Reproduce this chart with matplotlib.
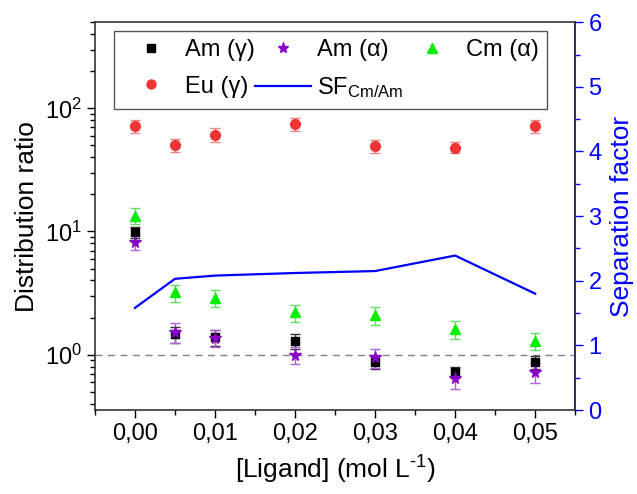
import numpy as np
import matplotlib
matplotlib.use('Agg')
import matplotlib.pyplot as plt
from matplotlib.lines import Line2D
from matplotlib.ticker import FixedLocator, MultipleLocator, FuncFormatter, LogLocator
#================================================================
plt.rcParams['font.family'] = ['Liberation Sans', 'DejaVu Sans']
plt.rcParams['mathtext.fontset'] = 'custom'
plt.rcParams['mathtext.rm'] = 'Liberation Sans'
plt.rcParams['mathtext.it'] = 'Liberation Sans:italic'

ligand = [0.0, 0.005, 0.01, 0.02, 0.03, 0.04, 0.05]

eu_gamma = [72, 50, 61, 74, 49, 48, 72]
eu_gamma_err = [9, 6, 8, 9, 6, 5, 9]

cm_alpha = [13.4, 3.2, 2.9, 2.2, 2.1, 1.6, 1.3]
cm_alpha_err = [2.0, 0.5, 0.45, 0.35, 0.35, 0.27, 0.2]

am_gamma = [9.9, 1.46, 1.38, 1.29, 0.87, 0.72, 0.87]
am_gamma_err = [1.0, 0.22, 0.2, 0.17, 0.11, 0.08, 0.1]

am_alpha = [8.2, 1.53, 1.37, 1.0, 0.95, 0.65, 0.72]
am_alpha_err = [1.1, 0.28, 0.22, 0.16, 0.17, 0.12, 0.13]

sf_cm_am = [1.58, 2.03, 2.08, 2.12, 2.15, 2.39, 1.80]

xticks = [0.00, 0.01, 0.02, 0.03, 0.04, 0.05]
#================================================================
fig = plt.figure(figsize=(6.37, 4.94), dpi=100)
ax = fig.add_axes([0.149, 0.170, 0.754, 0.785])
ax2 = ax.twinx()

ax.axhline(1.0, color='grey', ls=(0, (5, 4)), lw=1.0, zorder=1)

def plot_series(y, yerr, marker, color, ecolor, ms):
    ax.errorbar(ligand, y, yerr=yerr, fmt=marker, color=color, ecolor=ecolor,
                ms=ms, mec=color, capsize=3.5, elinewidth=1.0, capthick=1.0, zorder=3)

plot_series(eu_gamma, eu_gamma_err, 'o', '#EE3535', '#F08080', 7)
plot_series(cm_alpha, cm_alpha_err, '^', '#00EE00', '#60E060', 7.5)
plot_series(am_gamma, am_gamma_err, 's', 'black', '#333333', 6)
plot_series(am_alpha, am_alpha_err, '*', '#8A00C8', '#B060E0', 8.5)

ax2.plot(ligand, sf_cm_am, color='#0000FF', lw=1.6)

ax.set_yscale('log')
ax.set_ylim(0.355, 500)
ax.set_xlim(-0.005, 0.055)
ax2.set_ylim(0, 6)

ax.xaxis.set_major_locator(FixedLocator(xticks))
ax.xaxis.set_minor_locator(MultipleLocator(0.005))
ax.xaxis.set_major_formatter(FuncFormatter(lambda v, p: ('%.2f' % v).replace('.', ',')))
ax.yaxis.set_major_locator(LogLocator(base=10, numticks=10))
ax.yaxis.set_minor_locator(LogLocator(base=10, subs=np.arange(2, 10), numticks=10))

ax.tick_params(axis='both', which='major', direction='out', length=6, width=1, labelsize=17)
ax.tick_params(axis='both', which='minor', direction='out', length=3.5, width=1)
ax.tick_params(axis='y', which='both', right=False)

ax2.yaxis.set_major_locator(MultipleLocator(1))
ax2.yaxis.set_minor_locator(MultipleLocator(0.5))
ax2.tick_params(axis='y', which='major', direction='out', length=6, width=1,
                colors='#0000FF', labelsize=17)
ax2.tick_params(axis='y', which='minor', direction='out', length=3.5, width=1, colors='#0000FF')
ax2.spines['right'].set_color('#0000FF')
for sp in ['left', 'top', 'bottom']:
    ax2.spines[sp].set_visible(False)
for sp in ax.spines.values():
    sp.set_linewidth(1.2)
    sp.set_color('#333333')
ax2.spines['right'].set_linewidth(1.2)

ax.set_xlabel(r'[Ligand] (mol L$^{\text{-1}}$)', fontsize=19, labelpad=6)
ax.set_ylabel('Distribution ratio', fontsize=19, labelpad=4)
ax2.set_ylabel('Separation factor', fontsize=19, color='#0000FF', labelpad=6)

handles = [
    Line2D([], [], ls='none', marker='s', color='black', ms=6),
    Line2D([], [], ls='none', marker='o', color='#EE3535', ms=6.5),
    Line2D([], [], ls='none', marker='*', color='#8A00C8', ms=8),
    Line2D([], [], color='#0000FF', lw=1.6),
    Line2D([], [], ls='none', marker='^', color='#00EE00', ms=7),
]
labels = ['Am (\u03b3)', 'Eu (\u03b3)', 'Am (\u03b1)', r'SF$_{\mathrm{Cm/Am}}$', 'Cm (\u03b1)']
leg = ax.legend(handles, labels, ncol=3, loc='upper left', bbox_to_anchor=(0.04, 0.977),
                borderaxespad=0, fontsize=17, handlelength=2.4, handletextpad=0.25,
                columnspacing=0.0, labelspacing=0.6, borderpad=0.35, fancybox=False,
                framealpha=1, edgecolor='#555555')
leg.get_frame().set_linewidth(1.0)
ax.set_zorder(ax2.get_zorder() + 1)
ax.patch.set_visible(False)

fig.savefig('out.png', dpi=100)
